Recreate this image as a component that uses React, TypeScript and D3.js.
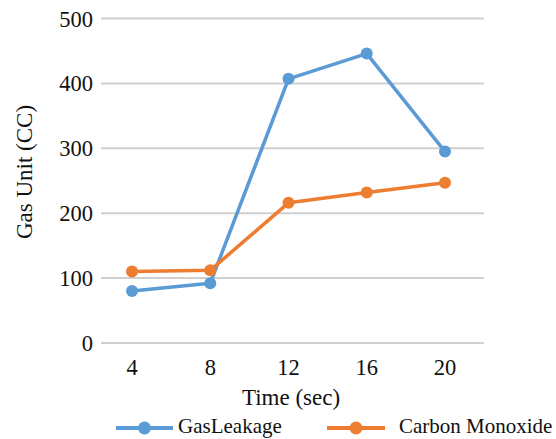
import React from "react";
import * as d3 from "d3";

const categories = [4, 8, 12, 16, 20];
const gasLeakage = [80, 92, 407, 446, 295];
const carbonMonoxide = [110, 112, 216, 232, 247];
const yTicks = [0, 100, 200, 300, 400, 500];

const W = 556;
const H = 439;

export default function App() {
  const x = d3.scalePoint<number>().domain(categories).range([132, 445]);
  const y = d3.scaleLinear().domain([0, 500]).range([343, 18.5]);
  const gridX0 = 101;
  const gridX1 = 484;
  const line = d3
    .line<number>()
    .x((_, i) => x(categories[i]) as number)
    .y((d) => y(d));

  const series = [
    { name: "GasLeakage", values: gasLeakage, color: "#5B9BD5" },
    { name: "Carbon Monoxide", values: carbonMonoxide, color: "#ED7D31" },
  ];
  const font = "'Liberation Serif', 'Times New Roman', serif";
  const legend = [
    { x0: 116, x1: 173, tx: 178 },
    { x0: 327, x1: 385, tx: 399 },
  ];

  return (
    <svg width={W} height={H} style={{ position: "absolute", left: 0, top: 0, background: "#fff" }}>
      <g style={{ fontFamily: font }}>
        {yTicks.map((t) => (
          <g key={t}>
            <line x1={gridX0} x2={gridX1} y1={y(t)} y2={y(t)} stroke="#D0D0D0" strokeWidth={2} />
            <text x={93} y={y(t) + 8} textAnchor="end" fontSize={22.5} fill="#111">
              {t}
            </text>
          </g>
        ))}
        {categories.map((c) => (
          <text key={c} x={x(c)} y={375} textAnchor="middle" fontSize={22.5} fill="#111">
            {c}
          </text>
        ))}
        <text transform={`translate(32,172) rotate(-90)`} textAnchor="middle" fontSize={23} fill="#111">
          Gas Unit (CC)
        </text>
        <text x={291} y={405} textAnchor="middle" fontSize={23} fill="#111">
          Time (sec)
        </text>
        {series.map((s) => (
          <g key={s.name}>
            <path d={line(s.values) || ""} fill="none" stroke={s.color} strokeWidth={3.5} strokeLinejoin="round" />
            {s.values.map((v, i) => (
              <circle key={i} cx={x(categories[i])} cy={y(v)} r={6} fill={s.color} />
            ))}
          </g>
        ))}
        {series.map((s, i) => (
          <g key={s.name}>
            <line x1={legend[i].x0} x2={legend[i].x1} y1={428} y2={428} stroke={s.color} strokeWidth={4} />
            <circle cx={(legend[i].x0 + legend[i].x1) / 2} cy={428} r={6.5} fill={s.color} />
            <text x={legend[i].tx} y={433} fontSize={21} fill="#111">
              {s.name}
            </text>
          </g>
        ))}
      </g>
    </svg>
  );
}
